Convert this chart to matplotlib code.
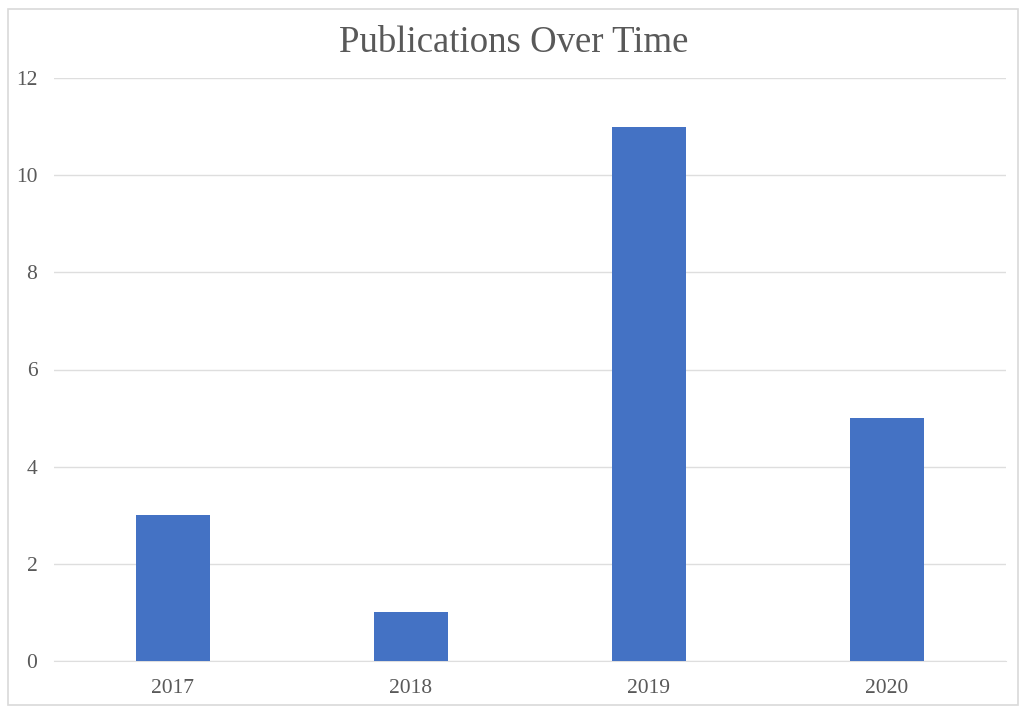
import matplotlib
matplotlib.use("Agg")
import matplotlib.pyplot as plt
from matplotlib.patches import Rectangle

years = ["2017", "2018", "2019", "2020"]
publications = [3, 1, 11, 5]
y_ticks = [0, 2, 4, 6, 8, 10, 12]

plt.rcParams['font.family'] = ['Liberation Serif', 'DejaVu Serif']
text_color = "#595959"
grid_color = "#DEDEDE"
bar_color = "#4472C4"

fig = plt.figure(figsize=(10.28, 7.14), dpi=100)
ax = fig.add_axes([54 / 1028, 1 - 661 / 714, 952 / 1028, 583 / 714])

# chart frame like an Excel chart area
fig.patches.append(Rectangle((8 / 1028, 1 - 705 / 714), 1010 / 1028, 696 / 714,
                             transform=fig.transFigure, fill=False,
                             edgecolor="#D9D9D9", linewidth=1.2))

x = range(len(years))
ax.bar(x, publications, width=0.31, color=bar_color, zorder=3)

ax.set_xlim(-0.5, len(years) - 0.5)
ax.set_ylim(0, 12)
ax.set_yticks(y_ticks)
ax.set_xticks(list(x))
ax.set_xticklabels(years)
ax.grid(axis="y", color=grid_color, linewidth=1, zorder=0)
ax.tick_params(axis="both", length=0, labelsize=15.5, labelcolor=text_color)
ax.tick_params(axis="x", pad=13)
ax.tick_params(axis="y", pad=12)
for s in ["top", "right", "left"]:
    ax.spines[s].set_visible(False)
ax.spines["bottom"].set_color(grid_color)

fig.text(0.5, 1 - 43 / 714, "Publications Over Time", ha="center", va="center",
         fontsize=26.5, color=text_color)

fig.savefig("out.png", dpi=100)
